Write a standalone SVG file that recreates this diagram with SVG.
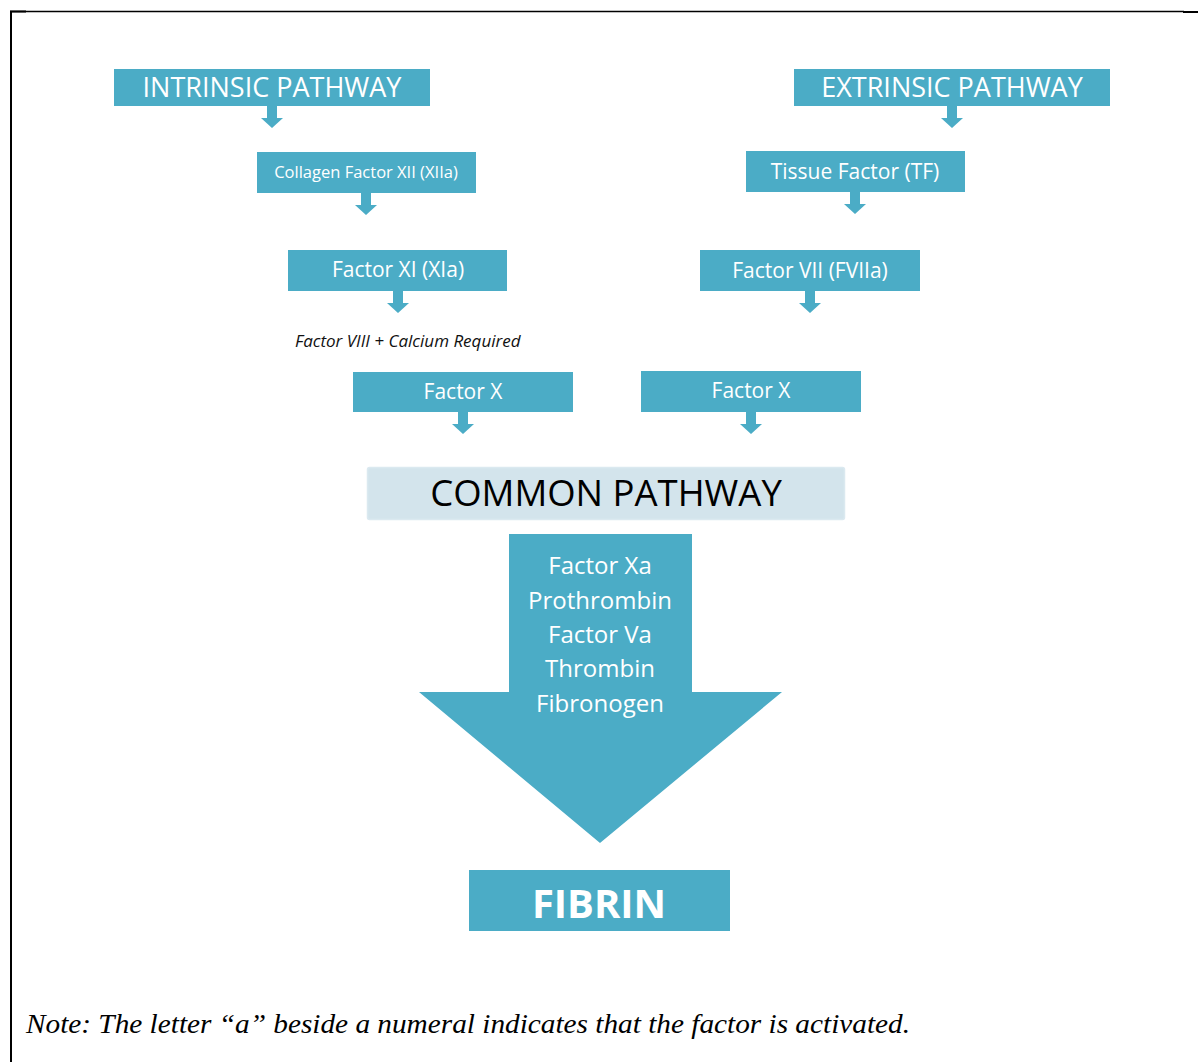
<svg xmlns="http://www.w3.org/2000/svg" width="1198" height="1062" viewBox="0 0 1198 1062">
<style>
.box{fill:#4bacc6}
.t{font-family:"Open Sans","Noto Sans",sans-serif;fill:#ffffff;text-anchor:middle}
.arr{fill:#4bacc6}
</style>
<defs>
<path id="ar" d="M-5 0 H5 V12 H11 L0 22 L-11 12 H-5 Z"/>
</defs>
<rect width="1198" height="1062" fill="#ffffff"/>
<g id="frame" fill="none" stroke="#000000">
<line x1="10" y1="11.5" x2="1184" y2="11.5" stroke-width="1.3"/>
<line x1="10" y1="11.5" x2="26" y2="11.5" stroke-width="2"/>
<line x1="1183" y1="12" x2="1198" y2="12" stroke-width="2"/>
<line x1="11" y1="11" x2="11" y2="1062" stroke-width="2"/>
</g>
<g id="connectors" class="arr">
<use href="#ar" x="272" y="106"/>
<use href="#ar" x="366" y="193"/>
<use href="#ar" x="398" y="291"/>
<use href="#ar" x="952" y="106"/>
<use href="#ar" x="855" y="192"/>
<use href="#ar" x="810" y="291"/>
<use href="#ar" x="463" y="412"/>
<use href="#ar" x="751" y="412"/>
</g>
<g id="intrinsic">
<rect class="box" x="114" y="69" width="316" height="37"/>
<text class="t" x="272" y="97" font-size="27">INTRINSIC PATHWAY</text>
</g>
<g id="collagen">
<rect class="box" x="257" y="152" width="219" height="41"/>
<text class="t" x="366" y="178" font-size="16.5">Collagen Factor XII (XIIa)</text>
</g>
<g id="factorXI">
<rect class="box" x="288" y="250" width="219" height="41"/>
<text class="t" x="398" y="277" font-size="21">Factor XI (XIa)</text>
</g>
<g id="note-viii">
<text x="295" y="347" font-family="'Open Sans','Noto Sans',sans-serif" font-style="italic" font-size="17" fill="#111111">Factor VIII + Calcium Required</text>
</g>
<g id="extrinsic">
<rect class="box" x="794" y="69" width="316" height="37"/>
<text class="t" x="952" y="97" font-size="27">EXTRINSIC PATHWAY</text>
</g>
<g id="tissue">
<rect class="box" x="746" y="151" width="219" height="41"/>
<text class="t" x="855" y="179" font-size="21">Tissue Factor (TF)</text>
</g>
<g id="factorVII">
<rect class="box" x="700" y="250" width="220" height="41"/>
<text class="t" x="810" y="278" font-size="21">Factor VII (FVIIa)</text>
</g>
<g id="factorX-left">
<rect class="box" x="353" y="372" width="220" height="40"/>
<text class="t" x="463" y="399" font-size="21">Factor X</text>
</g>
<g id="factorX-right">
<rect class="box" x="641" y="371" width="220" height="41"/>
<text class="t" x="751" y="398" font-size="21">Factor X</text>
</g>
<g id="common">
<rect x="367.5" y="467.5" width="477" height="52" rx="2" fill="#d3e4ec" stroke="#dbe9f0" stroke-width="1.5"/>
<text x="606" y="506" font-family="'Open Sans','Noto Sans',sans-serif" font-size="36.5" fill="#000000" text-anchor="middle">COMMON PATHWAY</text>
</g>
<g id="big-arrow">
<path class="box" d="M509 534 H692 V692 H782 L600 843 L419 692 H509 Z"/>
<text class="t" font-size="24" x="600" y="574">Factor Xa</text>
<text class="t" font-size="24" x="600" y="609">Prothrombin</text>
<text class="t" font-size="24" x="600" y="643">Factor Va</text>
<text class="t" font-size="24" x="600" y="677">Thrombin</text>
<text class="t" font-size="24" x="600" y="712">Fibronogen</text>
</g>
<g id="fibrin">
<rect class="box" x="469" y="870" width="261" height="61"/>
<text class="t" x="599" y="918" font-size="40" font-weight="bold">FIBRIN</text>
</g>
<g id="footnote">
<text x="26" y="1033" font-family="'Liberation Serif','Times New Roman',serif" font-style="italic" font-size="28" textLength="884" lengthAdjust="spacingAndGlyphs" fill="#000000">Note: The letter “a” beside a numeral indicates that the factor is activated.</text>
</g>
</svg>
